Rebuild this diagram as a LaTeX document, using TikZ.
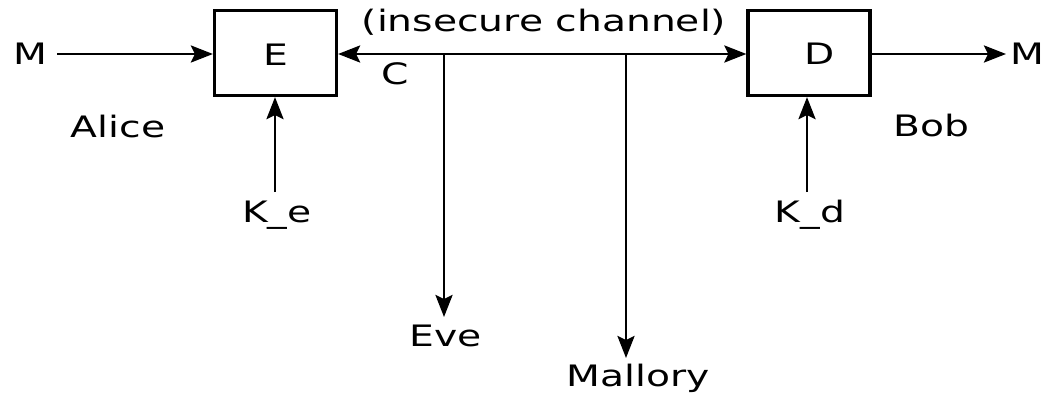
\documentclass[tikz,border=0pt]{standalone}
\usepackage{fontspec}
\setmainfont{DejaVu Sans}[FakeStretch=1.33]
\usetikzlibrary{arrows.meta}
\begin{document}
\begin{tikzpicture}[x=1pt,y=-1pt,
  lbl/.style={font=\fontsize{29.5}{34}\selectfont, inner sep=0pt, anchor=base},
  cipherbox/.style={draw, line width=3.2pt, minimum width=122pt, minimum height=85pt, inner sep=0pt},
  tip/.style={Stealth[length=22pt,width=17pt,inset=4pt]},
  flow/.style={line width=2.8pt, -{Stealth[length=22pt,width=17pt,inset=4pt]}},
  duplex/.style={line width=2.8pt, {Stealth[length=22pt,width=17pt,inset=4pt]}-{Stealth[length=22pt,width=17pt,inset=4pt]}}]
\useasboundingbox (0,0) rectangle (1046,393);

% encryption and decryption boxes
\node[cipherbox] (Ebox) at (275.5,53) {};
\node[cipherbox] (Dbox) at (809,53) {};
\node[lbl] (E) at (276,66) {E};
\node[lbl] (D) at (820,65) {D};

% plaintext in and out
\node[lbl] (Min) at (30,65) {M};
\node[lbl] (Mout) at (1027,65) {M};
\coordinate (Minend) at (57,54);
\coordinate (Moutend) at (1006,54);
\draw[flow] (Minend) -- (Ebox.west |- Minend);
\draw[flow] (Dbox.east |- Moutend) -- (Moutend);

% the channel between the parties
\node[lbl] (chan) at (544,32) {(insecure channel)};
\node[lbl] (C) at (395,85) {C};
\draw[duplex] (Ebox.east |- Minend) -- (Dbox.west |- Minend);

% parties
\node[lbl] (Alice) at (118,137) {Alice};
\node[lbl] (Bob) at (931,136) {Bob};

% keys
\node[lbl] (Ke) at (277,222) {K\_e};
\node[lbl] (Kd) at (810,222) {K\_d};
\coordinate (Kesrc) at (275,192);
\coordinate (Kdsrc) at (807,192);
\draw[flow] (Kesrc) -- (Kesrc |- Ebox.south);
\draw[flow] (Kdsrc) -- (Kdsrc |- Dbox.south);

% eavesdroppers tapping the channel
\node[lbl] (Eve) at (446,346) {Eve};
\node[lbl] (Mallory) at (638,386) {Mallory};
\coordinate (tapEve) at (444,54);
\coordinate (tapMal) at (626,54);
\coordinate (Eveend) at (444,317);
\coordinate (Malend) at (626,358);
\draw[flow] (tapEve) -- (Eveend);
\draw[flow] (tapMal) -- (Malend);
\end{tikzpicture}
\end{document}
